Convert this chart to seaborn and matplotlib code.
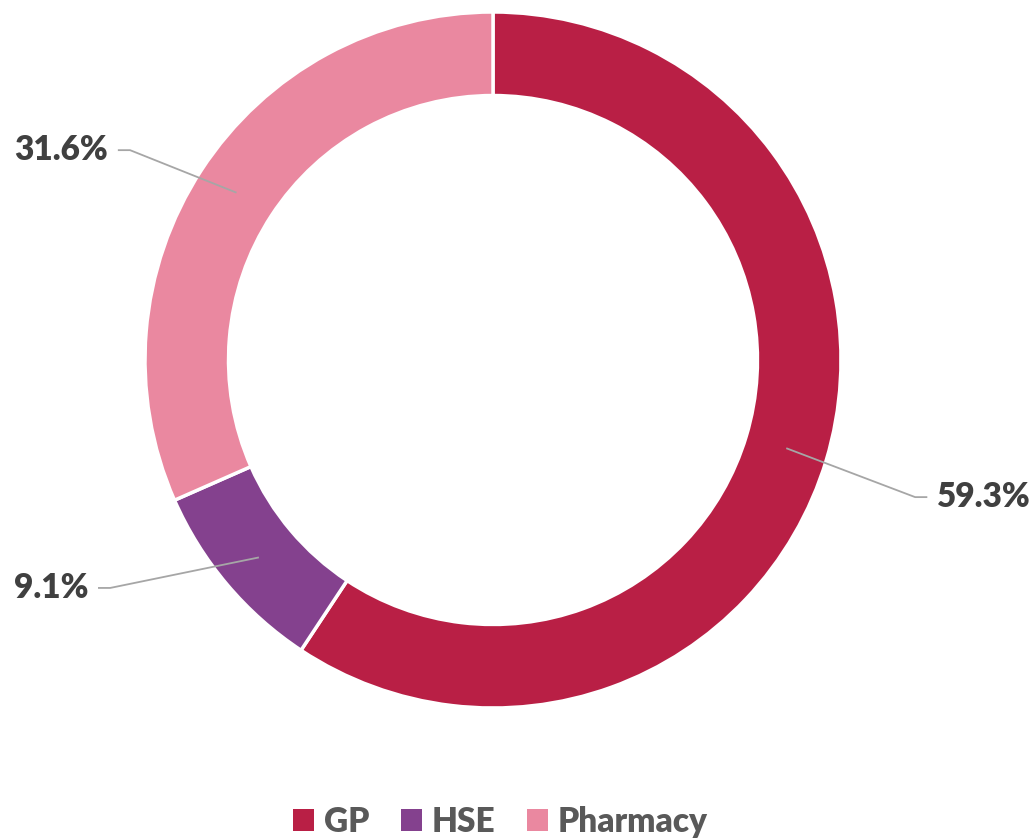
import numpy as np
import matplotlib
matplotlib.use("Agg")
import matplotlib.pyplot as plt
from matplotlib.patches import Patch
import seaborn as sns

# data
categories = ["GP", "HSE", "Pharmacy"]
shares = [59.3, 9.1, 31.6]
pct_labels = ["59.3%", "9.1%", "31.6%"]
colors = sns.color_palette(["#B91F45", "#84418E", "#EA88A0"])

sns.set_theme(style="white")
plt.rcParams["font.family"] = ["Lato", "DejaVu Sans"]

fig = plt.figure(figsize=(10.36, 8.40), dpi=100)
# ring centred at (493, 360) px, radius 348 px
ax = fig.add_axes([(493 - 348) / 1036, (840 - 708) / 840, 696 / 1036, 696 / 840])

wedges, _ = ax.pie(shares, colors=colors, startangle=90, counterclock=False,
                   radius=1.0, wedgeprops=dict(width=0.24, edgecolor="white", linewidth=2.5))
ax.set_xlim(-1, 1)
ax.set_ylim(-1, 1)
ax.set_aspect("equal")
ax.axis("off")

# leader line elbows (layout) per slice
elbows = [(1.213, -0.394), (-1.10, -0.655), (-1.043, 0.603)]
for w, lab, (ex, ey) in zip(wedges, pct_labels, elbows):
    ang = np.deg2rad((w.theta1 + w.theta2) / 2)
    sx, sy = 0.88 * np.cos(ang), 0.88 * np.sin(ang)
    side = 1 if ex > 0 else -1
    endx = ex + side * 0.035
    ax.plot([sx, ex, endx], [sy, ey, ey], color="#A6A6A6", lw=1.3,
            clip_on=False, solid_capstyle="butt")
    ax.text(endx + side * 0.028, ey, lab, ha="left" if side > 0 else "right",
            va="center", fontsize=24, fontweight="heavy", color="#404040")

handles = [Patch(facecolor=c, edgecolor="none") for c in colors]
fig.legend(handles, categories, loc="center", bbox_to_anchor=(0.483, 1 - 822 / 840),
           ncol=3, frameon=False, handlelength=0.62, handleheight=0.62,
           handletextpad=0.3, columnspacing=0.95,
           prop=dict(size=24, weight="heavy"), labelcolor="#595959")

fig.savefig("out.png", dpi=100, facecolor="white")
